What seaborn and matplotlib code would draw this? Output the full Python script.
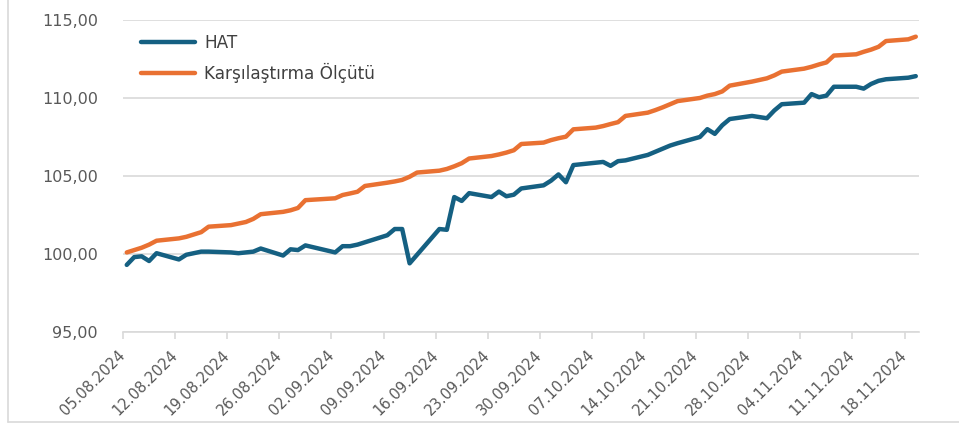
import matplotlib
matplotlib.use("Agg")
import matplotlib.pyplot as plt
import matplotlib.ticker as mticker
import matplotlib.transforms as mtransforms
from matplotlib.lines import Line2D
import pandas as pd
import seaborn as sns

dates = [
    "05.08.2024", "06.08.2024", "07.08.2024", "08.08.2024", "09.08.2024",
    "12.08.2024", "13.08.2024", "14.08.2024", "15.08.2024", "16.08.2024",
    "19.08.2024", "20.08.2024", "21.08.2024", "22.08.2024", "23.08.2024",
    "26.08.2024", "27.08.2024", "28.08.2024", "29.08.2024",
    "02.09.2024", "03.09.2024", "04.09.2024", "05.09.2024", "06.09.2024",
    "09.09.2024", "10.09.2024", "11.09.2024", "12.09.2024", "13.09.2024",
    "16.09.2024", "17.09.2024", "18.09.2024", "19.09.2024", "20.09.2024",
    "23.09.2024", "24.09.2024", "25.09.2024", "26.09.2024", "27.09.2024",
    "30.09.2024", "01.10.2024", "02.10.2024", "03.10.2024", "04.10.2024",
    "07.10.2024", "08.10.2024", "09.10.2024", "10.10.2024", "11.10.2024",
    "14.10.2024", "15.10.2024", "16.10.2024", "17.10.2024", "18.10.2024",
    "21.10.2024", "22.10.2024", "23.10.2024", "24.10.2024", "25.10.2024",
    "28.10.2024", "30.10.2024", "31.10.2024", "01.11.2024",
    "04.11.2024", "05.11.2024", "06.11.2024", "07.11.2024", "08.11.2024",
    "11.11.2024", "12.11.2024", "13.11.2024", "14.11.2024", "15.11.2024",
    "18.11.2024", "19.11.2024",
]

hat = [
    99.30, 99.80, 99.85, 99.55, 100.05,
    99.65, 99.95, 100.05, 100.15, 100.15,
    100.10, 100.05, 100.10, 100.15, 100.35,
    99.90, 100.30, 100.25, 100.55,
    100.10, 100.50, 100.50, 100.60, 100.75,
    101.20, 101.60, 101.60, 99.40, 99.95,
    101.60, 101.55, 103.65, 103.40, 103.90,
    103.65, 104.00, 103.70, 103.80, 104.20,
    104.40, 104.70, 105.10, 104.60, 105.70,
    105.85, 105.90, 105.65, 105.95, 106.00,
    106.35, 106.55, 106.75, 106.95, 107.10,
    107.50, 108.00, 107.70, 108.25, 108.65,
    108.85, 108.70, 109.20, 109.60,
    109.70, 110.25, 110.05, 110.15, 110.72,
    110.72, 110.60, 110.90, 111.10, 111.20,
    111.30, 111.40,
]

benchmark = [
    100.10, 100.25, 100.40, 100.60, 100.85,
    101.00, 101.10, 101.25, 101.40, 101.75,
    101.85, 101.95, 102.05, 102.25, 102.55,
    102.70, 102.80, 102.95, 103.45,
    103.57, 103.78, 103.88, 103.99, 104.36,
    104.57, 104.65, 104.75, 104.95, 105.22,
    105.34, 105.45, 105.62, 105.82, 106.12,
    106.28, 106.38, 106.50, 106.65, 107.05,
    107.14, 107.30, 107.42, 107.52, 107.99,
    108.10, 108.20, 108.33, 108.45, 108.85,
    109.06, 109.22, 109.40, 109.60, 109.80,
    110.00, 110.15, 110.25, 110.42, 110.79,
    111.05, 111.26, 111.45, 111.69,
    111.88, 112.00, 112.15, 112.28, 112.72,
    112.80, 112.96, 113.10, 113.28, 113.65,
    113.76, 113.93,
]

series_names = ["HAT", "Karşılaştırma Ölçütü"]
colors = ["#156082", "#E97132"]
y_ticks = [95, 100, 105, 110, 115]
x_tick_start = "05.08.2024"
x_tick_end = "18.11.2024"

sns.set_style("white")
plt.rcParams["font.family"] = ["DejaVu Sans"]

# Points sit in the middle of each day (Excel date axis, "between tick marks")
d = pd.to_datetime(dates, format="%d.%m.%Y") + pd.Timedelta(hours=12)
df = pd.concat([
    pd.DataFrame({"Tarih": d, "Değer": hat, "Seri": series_names[0]}),
    pd.DataFrame({"Tarih": d, "Değer": benchmark, "Seri": series_names[1]}),
])

fig = plt.figure(figsize=(9.59, 4.26), dpi=100)
ax = fig.add_axes([0.1283, 0.2207, 0.8305, 0.7324])

sns.lineplot(data=df, x="Tarih", y="Değer", hue="Seri", hue_order=series_names,
             palette=colors, linewidth=3.2, ax=ax, legend=True,
             solid_capstyle="round", solid_joinstyle="round")

ax.set_xlim(pd.Timestamp("2024-08-05"), pd.Timestamp("2024-11-20"))
ax.set_ylim(95, 115)
ax.set_yticks(y_ticks)
ax.yaxis.set_major_formatter(mticker.FuncFormatter(lambda v, p: f"{v:.2f}".replace(".", ",")))

xt = pd.date_range(pd.to_datetime(x_tick_start, format="%d.%m.%Y"),
                   pd.to_datetime(x_tick_end, format="%d.%m.%Y"), freq="7D")
ax.set_xticks(xt)
ax.set_xticklabels([t.strftime("%d.%m.%Y") for t in xt], rotation=45, ha="right",
                   va="center", rotation_mode="anchor")
offset = mtransforms.ScaledTranslation(3 / 100, 0, fig.dpi_scale_trans)
for lbl in ax.get_xticklabels():
    lbl.set_transform(lbl.get_transform() + offset)

ax.grid(axis="y", color="#d9d9d9", linewidth=1.2)
ax.grid(axis="x", visible=False)
ax.set_axisbelow(True)
for s in ["left", "right", "top"]:
    ax.spines[s].set_visible(False)
ax.spines["bottom"].set_color("#d9d9d9")
ax.spines["bottom"].set_linewidth(1.2)
ax.tick_params(axis="x", direction="out", length=5, width=1.2, color="#d9d9d9",
               labelcolor="#595959", labelsize=10.6, pad=10, bottom=True)
ax.tick_params(axis="y", length=0, labelcolor="#595959", labelsize=11.5, pad=18)
ax.set_xlabel("")
ax.set_ylabel("")

leg = ax.legend(loc="upper left", bbox_to_anchor=(0.022, 0.955), frameon=False,
                handlelength=3.2, handletextpad=0.55, labelspacing=0.66,
                borderaxespad=0, borderpad=0, fontsize=12.2)
for t in leg.get_texts():
    t.set_color("#404040")
for h in leg.get_lines():
    h.set_linewidth(3.2)
    h.set_solid_capstyle("round")

# outer chart border (left and bottom visible in the crop)
fig.add_artist(Line2D([8 / 959, 8 / 959], [4 / 426, 1.0], transform=fig.transFigure,
                      color="#d9d9d9", linewidth=1.2))
fig.add_artist(Line2D([8 / 959, 1.0], [4 / 426, 4 / 426], transform=fig.transFigure,
                      color="#d9d9d9", linewidth=1.2))

fig.savefig("out.png", dpi=100)
